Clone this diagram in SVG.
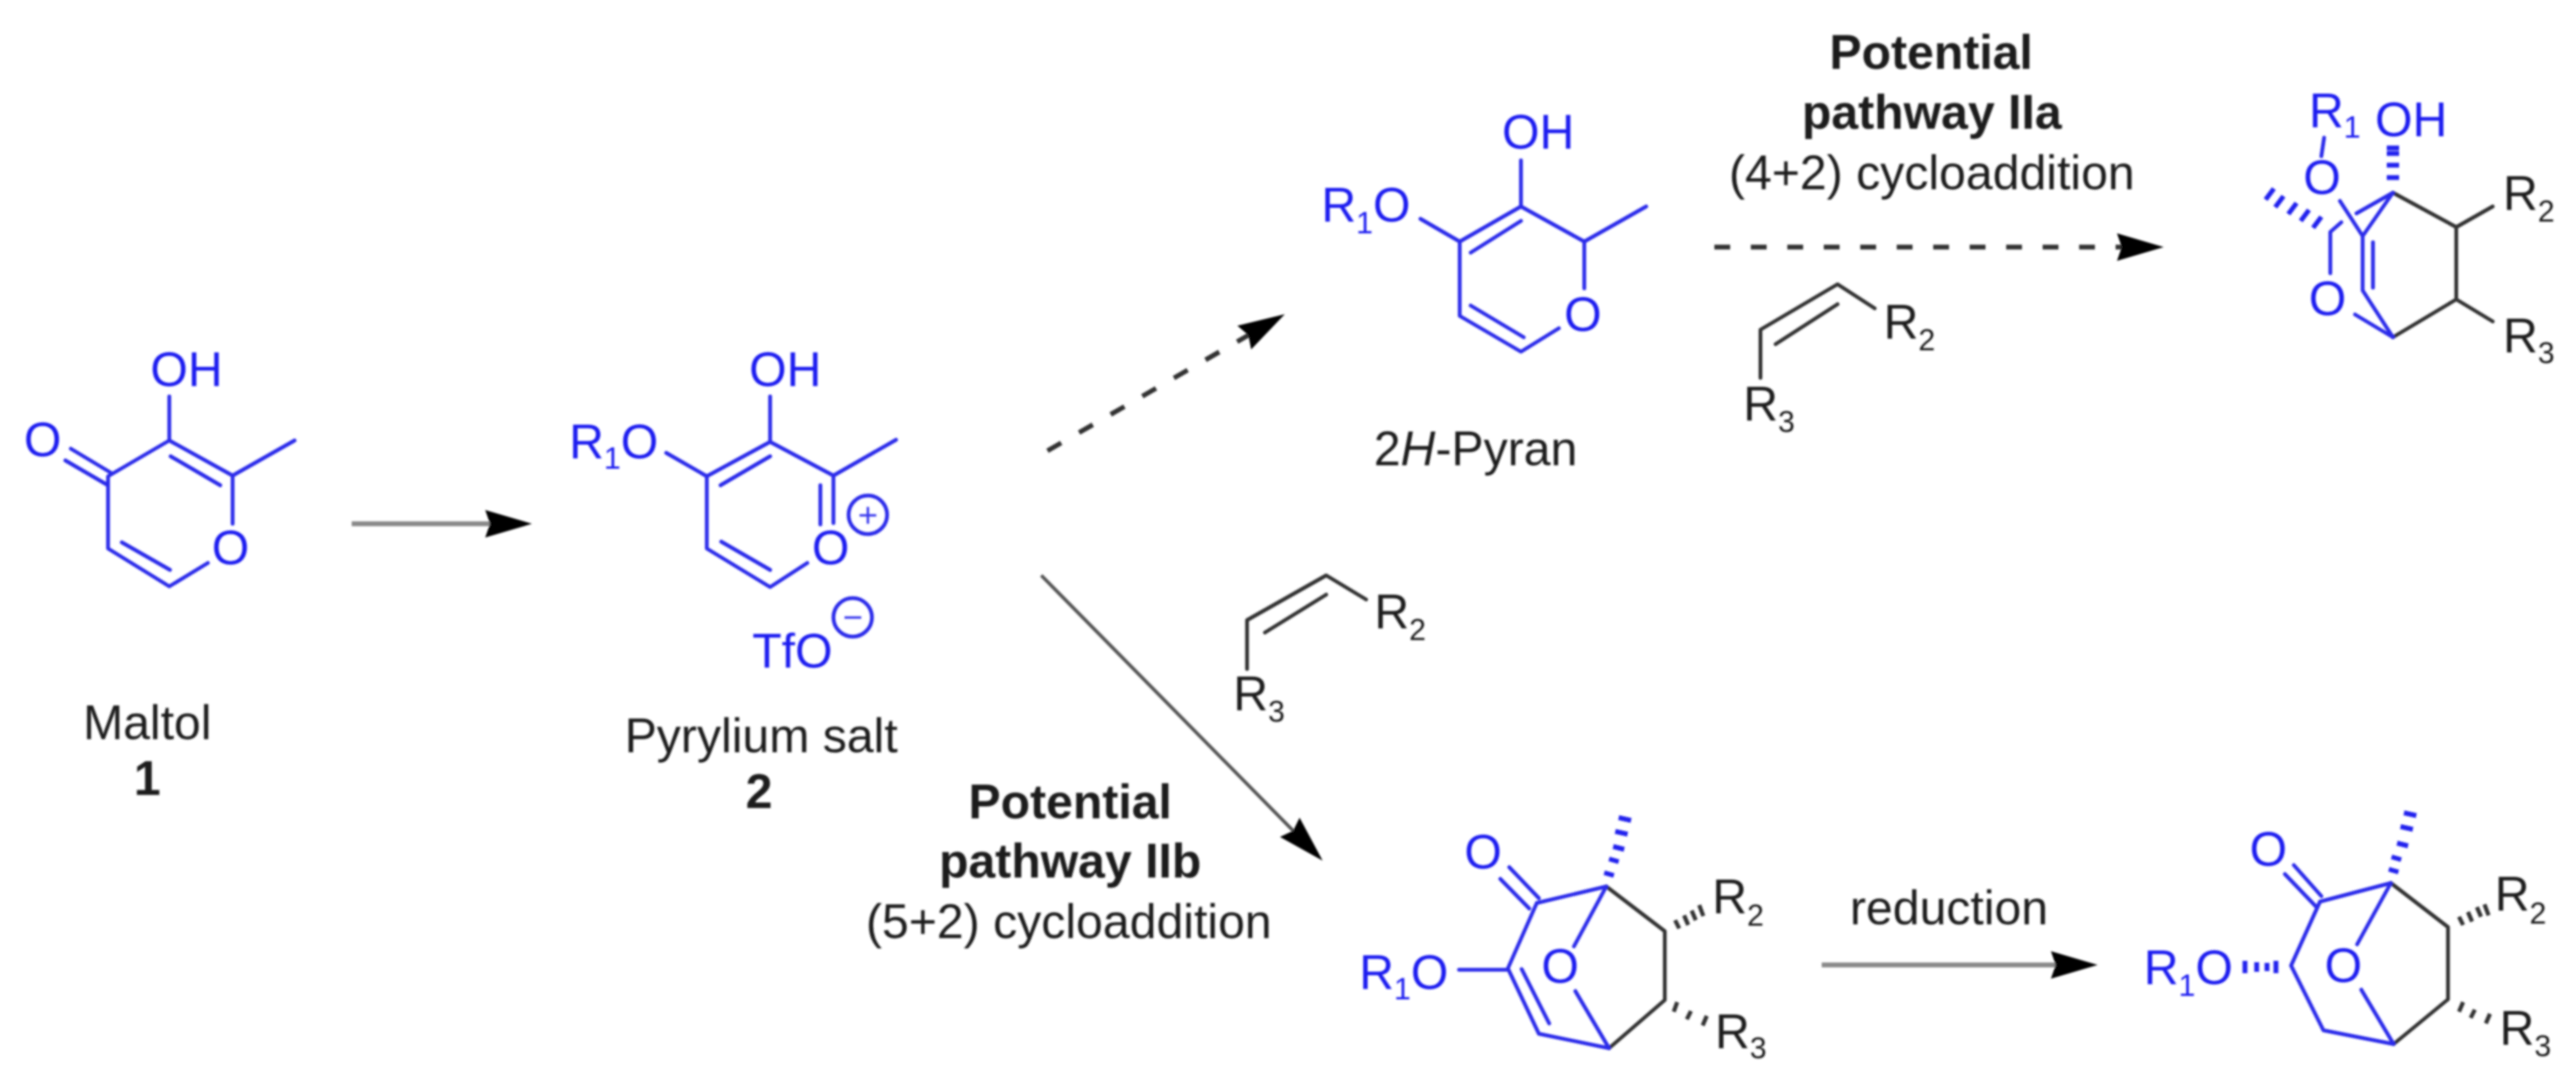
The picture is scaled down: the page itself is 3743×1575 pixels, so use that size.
<svg xmlns="http://www.w3.org/2000/svg" width="3743" height="1575" viewBox="0 0 3743 1575">
<style>
text{font-family:"Liberation Sans",Arial,sans-serif;font-size:70px;fill:#1c1c1c}
.a{text-anchor:middle}
.bl{fill:#1f1ff0}
.bd{font-weight:bold}
.i{font-style:italic}
.s{font-size:44px}
.c{font-size:50px;text-anchor:middle;fill:#3a3aee}
.bb{fill:none;stroke:#2a2aea;stroke-width:5.5;stroke-linecap:round;stroke-linejoin:round}
.kb{fill:none;stroke:#333;stroke-width:5.5;stroke-linecap:round;stroke-linejoin:round}
.ha{fill:none;stroke:#2222ee;stroke-width:7}
.hk{fill:none;stroke:#333;stroke-width:6}
.ar{fill:none;stroke:#555;stroke-width:5;marker-end:url(#head)}
.dash{stroke:#333;stroke-width:7;stroke-dasharray:23 30}
.pale{stroke:#888;stroke-width:7}
</style>
<defs>
<marker id="head" markerUnits="userSpaceOnUse" markerWidth="72" markerHeight="44" viewBox="0 -22 72 44" refX="7" refY="0" orient="auto"><path d="M0,-20 L68,0 L0,20 L7,0 Z" fill="#000"/></marker>
<filter id="soft" filterUnits="userSpaceOnUse" x="0" y="0" width="3743" height="1575"><feGaussianBlur stdDeviation="1.5"/></filter>
</defs>
<rect width="3743" height="1575" fill="#fff"/>
<g filter="url(#soft)">
<g id="connectors">
<path class="ar pale" d="M511,761 H712"/>
<path class="ar dash" d="M1522,655 L1814,487"/>
<path class="ar dash" d="M2491,359 H3083"/>
<path class="ar" d="M1513,836 L1879,1207"/>
<path class="ar pale" d="M2647,1402 H2987"/>
</g>
<g id="maltol">
<path class="bb" d="M246,576 V640 M246,640 L338,691 V761 M338,691 L428,640 M246,640 L157,692 V797 L246,852 L302,818 M248,663 L320,705 M177,788 L247,828 M103,652 L163,688 M95,669 L155,704"/>
<text class="a bl" x="271" y="561">OH</text>
<text class="a bl" x="62" y="663">O</text>
<text class="a bl" x="335" y="820">O</text>
<text class="a" x="214" y="1074">Maltol</text>
<text class="a bd" x="214" y="1155">1</text>
</g>
<g id="pyrylium">
<path class="bb" d="M1119,576 V642 M1119,642 L1211,691 V760 M1192,705 V762 M1211,691 L1302,639 M1119,642 L1027,692 V797 L1119,853 L1173,818 M1119,663 L1047,705 M1048,787 L1119,828 M968,658 L1027,692"/>
<text class="a bl" x="1141" y="561">OH</text>
<text class="bl" x="827" y="666">R<tspan class="s" dy="15">1</tspan><tspan dy="-15">O</tspan></text>
<text class="a bl" x="1207" y="820">O</text>
<circle class="bb" cx="1261" cy="748" r="28"/>
<text class="c" x="1261" y="765">+</text>
<text class="bl" x="1093" y="970">TfO</text>
<circle class="bb" cx="1239" cy="897" r="28"/>
<text class="c" x="1239" y="914">−</text>
<text class="a" x="1106" y="1093">Pyrylium salt</text>
<text class="a bd" x="1103" y="1174">2</text>
</g>
<g id="pyran">
<path class="bb" d="M2210,233 V300 M2210,300 L2302,351 V419 M2302,351 L2392,300 M2210,300 L2121,351 V459 L2210,511 L2265,477 M2210,321 L2137,367 M2137,444 L2214,490 M2064,318 L2121,351"/>
<text class="a bl" x="2235" y="216">OH</text>
<text class="bl" x="1920" y="322">R<tspan class="s" dy="17">1</tspan><tspan dy="-17">O</tspan></text>
<text class="a bl" x="2300" y="481">O</text>
<text class="a" x="2144" y="676">2<tspan class="i">H</tspan>-Pyran</text>
</g>
<g id="alkene-top">
<path class="kb" d="M2724,448 L2670,413 L2558,479 V549 M2670,442 L2580,500"/>
<text x="2737" y="492">R<tspan class="s" dy="17">2</tspan></text>
<text x="2533" y="611">R<tspan class="s" dy="17">3</tspan></text>
</g>
<g id="label-iia">
<text class="a bd" x="2806" y="100">Potential</text>
<text class="a bd" x="2807" y="187">pathway IIa</text>
<text class="a" x="2807" y="275">(4+2) cycloaddition</text>
</g>
<g id="product-iia">
<path class="kb" d="M3477,280 L3569,330 V435 L3477,490 M3569,330 L3622,300 M3569,435 L3622,467"/>
<path class="bb" d="M3377,200 L3373,227 M3400,292 L3433,343 L3477,280 L3424,310 M3402,323 L3386,337 V397 M3422,457 L3477,490 L3433,422 V343 M3448,352 V418"/>
<path class="ha" d="M3468,215 H3486 M3468,223 H3486 M3468,240 H3486 M3468,258 H3486"/>
<path class="ha" d="M3292,290 L3304,274 M3306,301 L3318,285 M3325,311 L3337,295 M3343,321 L3355,305 M3361,331 L3373,315"/>
<text class="bl" x="3355" y="185">R<tspan class="s" dy="15">1</tspan></text>
<text class="bl" x="3451" y="198">OH</text>
<text class="a bl" x="3374" y="282">O</text>
<text class="a bl" x="3382" y="458">O</text>
<text x="3637" y="305">R<tspan class="s" dy="17">2</tspan></text>
<text x="3637" y="512">R<tspan class="s" dy="16">3</tspan></text>
</g>
<g id="alkene-bottom">
<path class="kb" d="M1985,871 L1927,836 L1812,901 V972 M1927,864 L1838,919"/>
<text x="1997" y="913">R<tspan class="s" dy="17">2</tspan></text>
<text x="1792" y="1032">R<tspan class="s" dy="17">3</tspan></text>
</g>
<g id="label-iib">
<text class="a bd" x="1555" y="1189">Potential</text>
<text class="a bd" x="1555" y="1275">pathway IIb</text>
<text class="a" x="1553" y="1363">(5+2) cycloaddition</text>
</g>
<g id="product-iib">
<path class="kb" d="M2334,1288 L2419,1353 V1453 L2338,1523"/>
<path class="bb" d="M2193,1260 L2236,1305 M2180,1277 L2222,1320 M2233,1312 L2334,1288 L2287,1375 M2233,1312 L2191,1407 L2236,1502 L2338,1523 L2289,1440 M2211,1408 L2251,1487 M2120,1409 H2191"/>
<path class="ha" d="M2331,1268 L2345,1272 M2338,1248 L2352,1252 M2344,1230 L2360,1234 M2347,1208 L2365,1212 M2352,1188 L2370,1192"/>
<path class="hk" d="M2434,1337 L2440,1349 M2447,1330 L2453,1344 M2458,1323 L2464,1337 M2469,1315 L2475,1331 M2437,1456 L2432,1470 M2457,1469 L2451,1481 M2480,1476 L2474,1490"/>
<text class="a bl" x="2155" y="1262">O</text>
<text class="bl" x="1975" y="1437">R<tspan class="s" dy="15">1</tspan><tspan dy="-15">O</tspan></text>
<text class="a bl" x="2267" y="1428">O</text>
<text x="2488" y="1327">R<tspan class="s" dy="18">2</tspan></text>
<text x="2492" y="1523">R<tspan class="s" dy="15">3</tspan></text>
</g>
<g id="label-reduction">
<text class="a" x="2832" y="1343">reduction</text>
</g>
<g id="product-reduced">
<path class="kb" d="M3474,1283 L3557,1347 V1452 L3478,1517"/>
<path class="bb" d="M3333,1257 L3373,1302 M3320,1270 L3365,1317 M3371,1310 L3474,1283 L3425,1372 M3371,1310 L3329,1403 L3376,1497 L3478,1517 L3431,1438"/>
<path class="ha" d="M3471,1263 L3485,1267 M3475,1245 L3489,1249 M3483,1225 L3499,1229 M3488,1201 L3506,1205 M3493,1181 L3511,1185"/>
<path class="ha" d="M3262,1396 V1414 M3279,1398 V1412 M3294,1399 V1411 M3307,1396 V1414"/>
<path class="hk" d="M3573,1332 L3579,1344 M3586,1325 L3592,1339 M3599,1318 L3605,1332 M3610,1314 L3616,1330 M3579,1456 L3573,1470 M3596,1467 L3590,1479 M3618,1473 L3612,1487"/>
<text class="a bl" x="3296" y="1258">O</text>
<text class="bl" x="3115" y="1430">R<tspan class="s" dy="17">1</tspan><tspan dy="-17">O</tspan></text>
<text class="a bl" x="3405" y="1427">O</text>
<text x="3625" y="1323">R<tspan class="s" dy="19">2</tspan></text>
<text x="3632" y="1518">R<tspan class="s" dy="17">3</tspan></text>
</g>
</g>
</svg>
